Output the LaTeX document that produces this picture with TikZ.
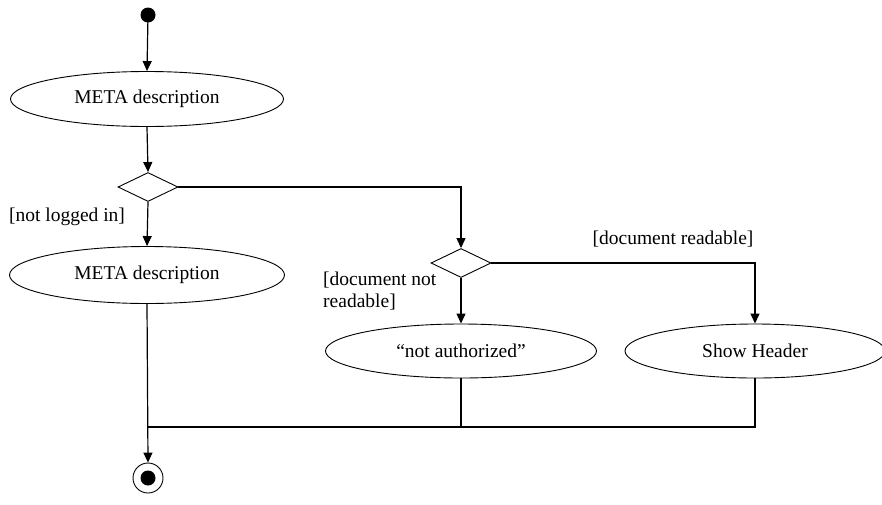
\documentclass[tikz,border=0pt]{standalone}
\usepackage{fontspec}
\setmainfont{Liberation Serif}
\usetikzlibrary{arrows.meta,shapes.geometric}

\begin{document}
\begin{tikzpicture}[
    >={Triangle[length=10pt,width=9pt]},
    x=1pt,
    y=-1pt,
    every node/.style={font=\fontsize{19.5pt}{21.5pt}\selectfont},
    activity/.style={ellipse, draw, line width=0.9pt, inner sep=0pt},
    choice/.style={diamond, draw, line width=0.9pt, inner sep=0pt,
        minimum width=60, minimum height=29},
    flow/.style={->, line width=1.2pt},
    mergeline/.style={line width=1.2pt},
    guard/.style={inner sep=0pt}
]

% 0. Canvas
\useasboundingbox (0,0) rectangle (882,504);

% 1. Start and end points
\fill (148,15) circle (7.5) coordinate (start);
\node[circle, draw, line width=0.9pt, minimum size=30, inner sep=0pt] (final) at (148,478) {};
\fill (final.center) circle (7.5);

% 2. Activities
\node[activity, minimum width=273, minimum height=55] (meta) at (147,99) {META description};
\node[activity, minimum width=275, minimum height=57] (metab) at (147,275) {META description};
\node[activity, minimum width=271, minimum height=54] (denied) at (461,351) {“not authorized”};
\node[activity, minimum width=260, minimum height=54] (header) at (755,351) {Show Header};

% 3. Decisions
\node[choice] (login) at (148,187) {};
\node[choice] (readable) at (461,263) {};

% 4. Guards
\node[guard] (notlogged) at (67,217) {[not logged in]};
\node[guard, anchor=north west, align=left] (notread) at (323,272) {[document not\\readable]};
\node[guard] (isread) at (673,239) {[document readable]};

% 5. Control flow
\draw[flow] (start) -- (meta.north);
\draw[flow] (meta.south) -- (login.north);
\draw[flow] (login.south) -- (metab.north);
\draw[flow] (login.east) -| (readable.north);
\draw[flow] (readable.south) -- (denied.north);
\draw[flow] (readable.east) -| (header.north);

% 6. Merge into the end point
\coordinate (merge) at (148,427);
\draw[flow] (metab.south) -- (final.north);
\draw[mergeline] (denied.south) |- (merge);
\draw[mergeline] (header.south) |- (merge);

\end{tikzpicture}
\end{document}
